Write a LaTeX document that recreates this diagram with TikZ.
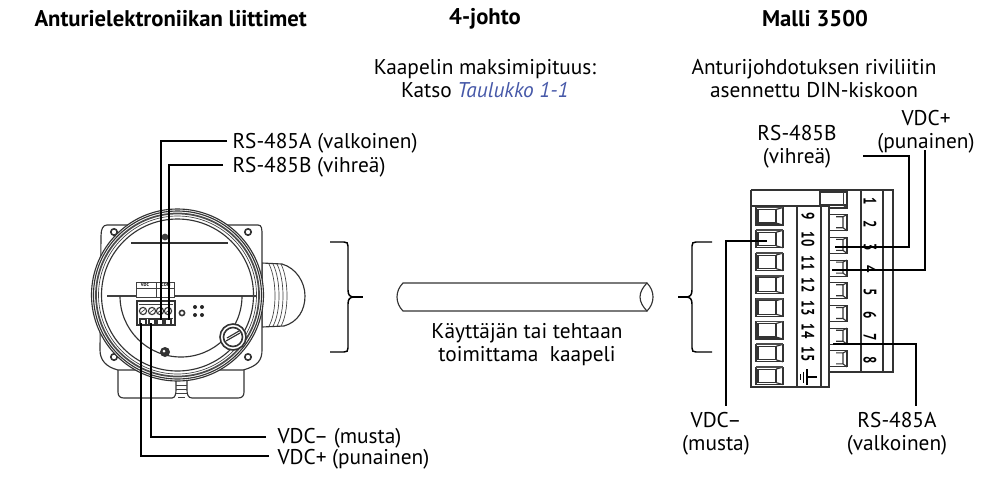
\documentclass[tikz,border=0pt]{standalone}
\usepackage{fontspec}
\setmainfont{PT Sans}
\definecolor{linkblue}{RGB}{70,88,168}
\tikzset{every picture/.style={line width=0.75pt}}
\tikzset{
  txt/.style={inner sep=0pt,align=center,font=\fontsize{16}{17.4}\selectfont},
  head/.style={inner sep=0pt,font=\fontsize{17}{17.6}\selectfont\bfseries},
  wire/.style={line width=1.5pt},
  part/.style={line width=0.85pt,color=black!80},
  thin part/.style={line width=0.5pt,color=black!75},
  tiny/.style={inner sep=0pt,font=\fontsize{3.4}{4}\selectfont\bfseries},
  num/.style={inner sep=0pt,rotate=-90,font=\fontsize{13.5}{14}\selectfont\bfseries},
}
\newcommand{\narrownum}[1]{\scalebox{0.72}[1]{#1}}
\begin{document}
\begin{tikzpicture}[x=0.75pt,y=0.75pt,yscale=-1,xscale=1]
\useasboundingbox (0,0) rectangle (984,493);

% Headings
\node [head,anchor=west] (headleft) at (34,19) {Anturielektroniikan liittimet};
\node [head] (headmid) at (485,19) {4-johto};
\node [head] (headright) at (815,19) {Malli 3500};
\node [txt] (maxlen) at (485,78.5) {Kaapelin maksimipituus:\\Katso \textcolor{linkblue}{\textit{Taulukko 1-1}}};
\node [txt] (dinrail) at (814,78.5) {Anturijohdotuksen riviliitin\\asennettu DIN-kiskoon};

% Housing flange and base
\draw [part,fill=white] (118,368) -- (118,392) .. controls (118,396) and (120,398) .. (124,398) -- (172,398) .. controls (175,398) and (176,394) .. (176,390) -- (176,380) -- (187,380) -- (187,390) .. controls (187,394) and (188,398) .. (192,398) -- (238,398) .. controls (242,398) and (244,396) .. (244,392) -- (244,368);
\draw [thin part] (176,385) -- (187,385) (176,389) -- (187,389) (176,393) -- (187,393) (178,397) -- (185,397);
\draw [part,fill=white] (262,263) -- (282,264) .. controls (296,268) and (305,282) .. (305,296) .. controls (305,310) and (298,322) .. (284,326) -- (262,327) -- cycle;
\foreach \sx in {269,273,277,281} {
  \draw [thin part] (\sx,264) .. controls (\sx+8,280) and (\sx+8,312) .. (\sx,326);
}
\draw [part,fill=white] (107,225) -- (120,225) -- (242,225) -- (258,225) .. controls (262,225) and (262,229) .. (262,236) -- (262,350) .. controls (262,360) and (258,366) .. (243,370) -- (118,370) .. controls (106,367) and (100,360) .. (100,350) -- (101,236) .. controls (101,229) and (103,225) .. (107,225) -- cycle;
\foreach \hx/\hy in {114/232,248/232,114/357,248/357} {
  \draw [line width=1.2pt,color=black!80] (\hx,\hy) circle [radius=3.2];
}
% Housing rings
\draw [part,fill=white] (177.5,295) circle [radius=86];
\draw [part] (177.5,295) circle [radius=84];
\draw [line width=1.3pt,color=black!70] (177.5,295) circle [radius=81.5];
\draw [thin part] (177.5,295) circle [radius=79];
\draw [part] (177.5,295) circle [radius=76];
% Inside of housing
\draw [part] (131,243) -- (228,243);
\draw [line width=1.5pt,color=black!75] (107,296) -- (256,296);
\draw [part] (120,296) arc [start angle=180,end angle=0,radius=61];
\fill [black!75] (165,237) circle [radius=3.4];
\fill [black!80] (165,352) circle [radius=5];
\fill [white] (164,351) circle [radius=1.5];
% Plug
\draw [line width=1.2pt,color=black!80,fill=white] (233,337) circle [radius=13];
\draw [line width=1.2pt,color=black!80,fill=white] (233,337) circle [radius=9.5];
\draw [part] (226,341) -- (240,333) (227,338) -- (239,331);
% Small screw and dots
\draw [line width=1.2pt,color=black!80] (182,313) circle [radius=2.6];
\foreach \dx/\dy in {195/307,202/307,195/315,202/315} {
  \fill [black!85] (\dx,\dy) circle [radius=2];
}
% Terminal plate
\draw [thin part,fill=white] (136,282) rectangle (174,297);
\draw [thin part] (156,282) -- (156,297) (136,288) -- (174,288);
\node [tiny] (platevdc) at (145,285) {VDC};
\node [tiny] (platecom) at (166,285) {COM};
% Terminal block
\draw [line width=1.2pt,color=black!80,fill=white] (137,301) rectangle (175,325);
\draw [thin part] (139,304) -- (173,304) (139,318) -- (173,318);
\foreach \sx in {143,152,160,168} {
  \draw [part] (\sx,311) circle [radius=3.6];
  \draw [thin part] (\sx-2,312.5) -- (\sx+2,309.5);
  \draw [part] (\sx-3,325) -- (\sx-3,319) -- (\sx+3,319) -- (\sx+3,325);
}

% Left labels and wires
\node [txt,anchor=west] (leftA) at (232,143.5) {RS-485A (valkoinen)};
\node [txt,anchor=west] (leftB) at (232,167.5) {RS-485B (vihreä)};
\node [txt,anchor=west] (leftneg) at (277,438) {VDC– (musta)};
\node [txt,anchor=west] (leftpos) at (277,459) {VDC+ (punainen)};
\coordinate (tA) at (161,320);
\coordinate (tB) at (169,320);
\coordinate (tneg) at (151,323);
\coordinate (tpos) at (141,323);
\coordinate (startA) at (227,141);
\coordinate (startB) at (223,165);
\coordinate (startneg) at (266,437);
\coordinate (startpos) at (269,456);
\draw [wire] (startA) -| (tA);
\draw [wire] (startB) -| (tB);
\draw [wire] (startneg) -| (tneg);
\draw [wire] (startpos) -| (tpos);

% Braces
\draw [line width=1.1pt] (330,242) -- (344,242) .. controls (347,242) and (348,243) .. (348,246) -- (348,290) .. controls (348,295) and (350,297) .. (354,297) .. controls (350,297) and (348,299) .. (348,304) -- (348,348) .. controls (348,351) and (347,352) .. (344,352) -- (330,352);
\draw [line width=1.1pt] (354,297) -- (363,297);
\draw [line width=1.1pt] (712,242) -- (696,242) .. controls (693,242) and (692,243) .. (692,246) -- (692,290) .. controls (692,295) and (690,297) .. (686,297) .. controls (690,297) and (692,299) .. (692,304) -- (692,348) .. controls (692,351) and (693,352) .. (696,352) -- (712,352);
\draw [line width=1.1pt] (686,297) -- (678,297);

% Cable
\draw [part] (647,283) -- (403,283) .. controls (399,287) and (397,292) .. (397,297) .. controls (397,302) and (399,307) .. (403,311) -- (647,311);
\draw [part] (647,283) .. controls (651,287) and (653,292) .. (653,297) .. controls (653,302) and (651,307) .. (647,311) .. controls (643,307) and (640,302) .. (640,297) .. controls (640,292) and (643,287) .. (647,283) -- cycle;
\node [txt] (cabletxt) at (527,344.5) {Käyttäjän tai tehtaan\\toimittama\ \ kaapeli};

% Rail terminal back row
\draw [part,line width=1.1pt] (751,190) -- (893,190) -- (893,372) -- (829,372);
\draw [part,line width=1.1pt] (861,190) -- (861,372) (883,190) -- (883,372);
\foreach \row in {0,...,7} {
  \pgfmathsetmacro{\ty}{192+22.7*\row}
  \draw [part,fill=white] (829,\ty) rectangle (847,\ty+16);
  \draw [part] (836,\ty+2) -- (843,\ty+2) -- (843,\ty+13) -- (836,\ty+13) (843,\ty+2) -- (847,\ty) (843,\ty+13) -- (847,\ty+16);
}
\draw [part,fill=white] (820,192) rectangle (847,205);
\draw [thin part] (843,192) -- (843,205);
% Rail terminal front row
\draw [part,line width=1.1pt,fill=white] (751,206) rectangle (829,387);
\draw [part,line width=1.1pt] (751,190) -- (751,206);
\draw [part,line width=1.1pt] (797,206) -- (797,387) (821,206) -- (821,387);
\foreach \row in {0,...,7} {
  \pgfmathsetmacro{\ty}{207.5+22.8*\row}
  \draw [part] (756,\ty) rectangle (783,\ty+17.5);
  \draw [part] (758,\ty+2) rectangle (776,\ty+15.5);
  \draw [part] (776,\ty+2) -- (783,\ty) (776,\ty+15.5) -- (783,\ty+17.5);
  \draw [line width=1.3pt,color=black!70] (756,\ty) -- (783,\ty);
}
% Rail terminal numbers
\foreach \lbl/\ty in {1/201,2/224,3/247,4/269,5/292,6/315,7/337,8/360} {
  \node [num] (back\lbl) at (870,\ty) {\narrownum{\lbl}};
}
\foreach \lbl/\ty in {9/216,10/239,11/263,12/285,13/308,14/331,15/354} {
  \node [num] (front\lbl) at (808,\ty) {\narrownum{\lbl}};
}
% Ground symbol
\draw [line width=0.8pt] (817,377) -- (807,377) (807,369) -- (807,385) (803.5,371.5) -- (803.5,382.5) (800.5,374) -- (800.5,380);

% Right labels and wires
\node [txt] (rightB) at (797,146.5) {RS-485B\\(vihreä)};
\node [txt] (rightpos) at (926,132) {VDC+\\(punainen)};
\node [txt] (rightneg) at (716,434) {VDC–\\(musta)};
\node [txt] (rightA) at (897,434) {RS-485A\\(valkoinen)};
\coordinate (wB) at (863,156);
\coordinate (kneeB) at (909,247);
\coordinate (wpos) at (925,150);
\coordinate (wneg) at (726,406);
\coordinate (wA) at (916,406);
\coordinate (pinB) at (835,247);
\coordinate (pinpos) at (832,270);
\coordinate (pinneg) at (767,241);
\coordinate (pinA) at (833,344);
\draw [wire] (wB) -| (kneeB) -- (pinB);
\draw [wire] (wpos) |- (pinpos);
\draw [wire] (pinneg) -| (wneg);
\draw [wire] (pinA) -| (wA);

\end{tikzpicture}
\end{document}
